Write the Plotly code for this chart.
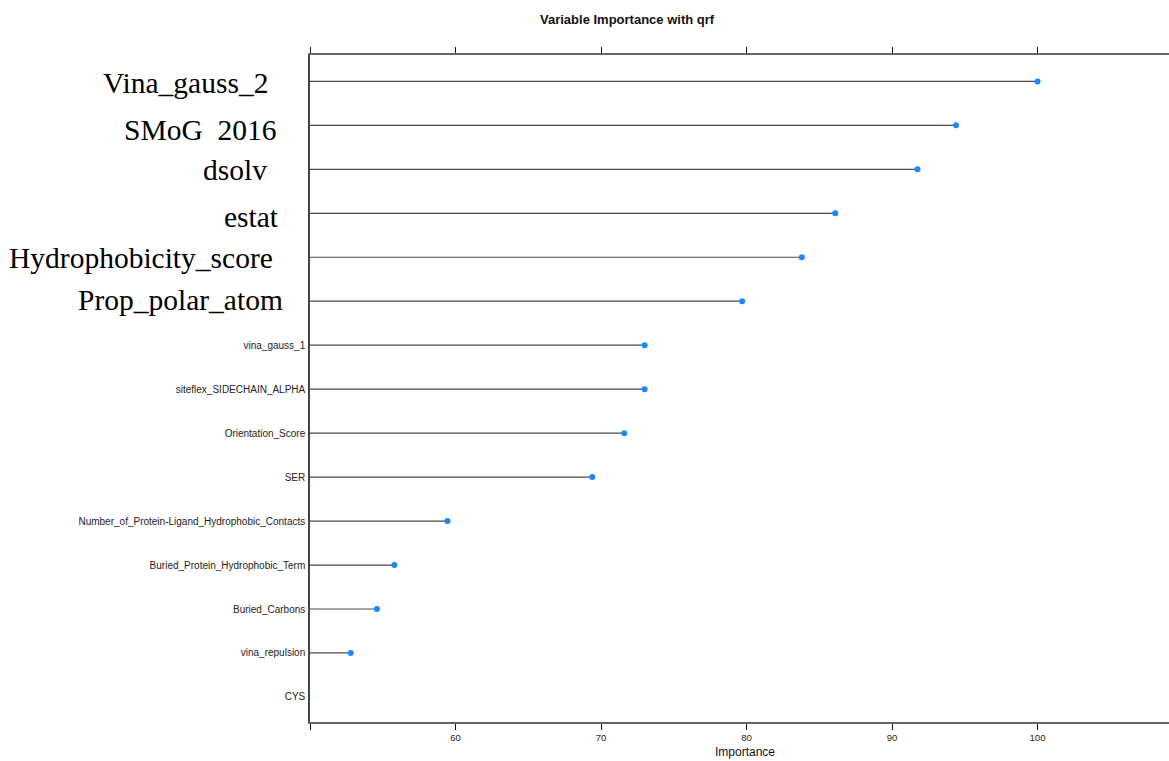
import plotly.graph_objects as go

# Variable importance (scaled) for the qrf model, most important first
variables = [
    "Vina_gauss_2", "SMoG\u00a0\u00a02016", "dsolv", "estat",
    "Hydrophobicity_score", "Prop_polar_atom", "vina_gauss_1",
    "siteflex_SIDECHAIN_ALPHA", "Orientation_Score", "SER",
    "Number_of_Protein-Ligand_Hydrophobic_Contacts",
    "Buried_Protein_Hydrophobic_Term", "Buried_Carbons",
    "vina_repulsion", "CYS",
]
importance = [100.0, 94.4, 91.75, 86.1, 83.8, 79.7, 73.0, 73.0, 71.6,
              69.4, 59.45, 55.8, 54.6, 52.8, 0.0]

# The first six names are set in a large serif face
n_large = 6
x_ticks = [50, 60, 70, 80, 90, 100]
x_tick_text = ["", "60", "70", "80", "90", "100"]

rows = list(range(len(variables)))

# Horizontal stems from zero to each importance value
seg_x, seg_y = [], []
for r, v in zip(rows, importance):
    seg_x += [0, v, None]
    seg_y += [r, r, None]

fig = go.Figure()
fig.add_trace(go.Scatter(
    x=seg_x, y=seg_y, mode="lines",
    line=dict(color="#4a4a4a", width=1.2),
    hoverinfo="skip", showlegend=False,
))
pts_x = [v for v in importance if v > 0]
pts_y = [r for r, v in zip(rows, importance) if v > 0]
fig.add_trace(go.Scatter(
    x=pts_x, y=pts_y, mode="markers",
    marker=dict(color="#1a86ff", size=6),
    showlegend=False, cliponaxis=False,
))

small_text = ["" if i < n_large else name for i, name in enumerate(variables)]

# Large serif labels with their individual placement tweaks
large_shift_x = [-12, -4, -13, -1, -7, 3]
large_shift_y = [-2, -5, -1, -4, -1, 1]
for i in range(n_large):
    fig.add_annotation(
        x=0, xref="paper", xanchor="right", xshift=-28 + large_shift_x[i],
        y=rows[i], yref="y", yanchor="middle", yshift=large_shift_y[i],
        text=variables[i], showarrow=False,
        font=dict(family="Liberation Serif", size=29.5, color="#000000"),
    )

fig.add_annotation(
    x=(627 - 310) / 859, xref="paper", y=1 + (55 - 20) / 667, yref="paper",
    yanchor="middle", text="<b>Variable Importance with qrf</b>",
    showarrow=False,
    font=dict(family="Liberation Sans", size=13, color="#111111"),
)

fig.add_annotation(
    x=(745 - 310) / 859, xref="paper", y=-(752 - 722) / 667, yref="paper",
    yanchor="middle", text="Importance", showarrow=False,
    font=dict(family="Liberation Sans", size=12, color="#111111"),
)

fig.update_xaxes(
    range=[50, 50 + 859 / 14.55],
    tickvals=x_ticks, ticktext=x_tick_text,
    ticks="outside", ticklen=6, tickwidth=1, tickcolor="#111111",
    showline=True, linecolor="#666666", linewidth=1.5,
    mirror="ticks", showgrid=False, zeroline=False,
    tickfont=dict(family="Liberation Sans", size=9.5, color="#222222"),
)
fig.update_yaxes(
    range=[len(variables) - 1 + 0.57, -0.6],
    tickvals=rows, ticktext=small_text,
    ticks="", showline=True, linecolor="#444444", linewidth=1.5,
    showgrid=False, zeroline=False, ticklabelstandoff=1,
    tickfont=dict(family="Liberation Sans", size=10, color="#222222"),
)

fig.update_layout(
    width=1169, height=761,
    margin=dict(l=310, r=0, t=55, b=39),
    plot_bgcolor="white", paper_bgcolor="white",
)

fig.write_html("out.html")
